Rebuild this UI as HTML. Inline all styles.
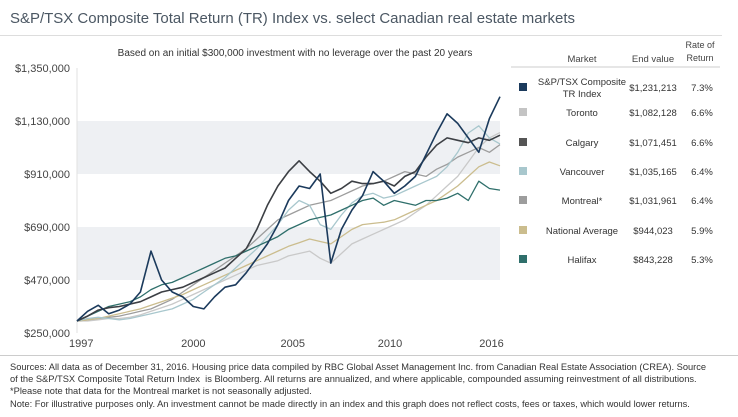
<!DOCTYPE html>
<html><head><meta charset="utf-8">
<style>
body{margin:0;width:738px;height:417px;background:#fff;font-family:"Liberation Sans",sans-serif;overflow:hidden;position:relative;color:#333}
.t{position:absolute;white-space:nowrap}
</style></head><body>
<div style="position:absolute;left:0;top:35px;width:722px;height:1px;background:#ddd"></div>
<svg id="chart" width="738" height="417" style="position:absolute;left:0;top:0"></svg>
<div style="position:absolute;left:0;top:355px;width:738px;height:1px;background:#ccc"></div>
<div class="t" style="left:10px;top:361px;font-size:9.3px;line-height:12.2px;color:#333">Sources: All data as of December 31, 2016. Housing price data compiled by RBC Global Asset Management Inc. from Canadian Real Estate Association (CREA). Source<br>of the S&amp;P/TSX Composite Total Return Index &nbsp;is Bloomberg. All returns are annualized, and where applicable, compounded assuming reinvestment of all distributions.<br>*Please note that data for the Montreal market is not seasonally adjusted.<br>Note: For illustrative purposes only. An investment cannot be made directly in an index and this graph does not reflect costs, fees or taxes, which would lower returns.</div>
<script>
const yTicks=[250000,470000,690000,910000,1130000,1350000];
const yTickLabels=["$250,000","$470,000","$690,000","$910,000","$1,130,000","$1,350,000"];
const xTickAt=[1997.2,2002.5,2007.2,2011.8,2016.6];
const xTickLabels=["1997","2000","2005","2010","2016"];
const startYear=1997, stepYears=0.5;
const seriesNames=["Toronto","Montreal*","National Average","Vancouver","Halifax","Calgary","S&P/TSX Composite TR Index"];
const seriesColors=["#c9c9c9","#9d9d9d","#cbbd8e","#a8c7cd","#2f6f6b","#3c3f44","#1b3a5c"];
const toronto=[300,300,305,310,310,315,325,340,355,370,390,410,430,450,470,490,510,530,540,550,570,580,590,560,540,580,620,640,660,680,700,720,750,780,820,860,900,960,1020,1060,1082];
const montreal=[300,305,310,315,320,330,340,350,370,390,420,450,480,510,540,570,600,640,680,720,740,760,780,790,800,820,840,860,870,880,900,920,910,900,930,950,980,1000,1020,1000,1032];
const national=[300,305,310,320,330,340,350,365,380,395,410,430,450,470,490,510,530,550,570,590,610,625,640,630,620,650,680,700,705,710,720,740,760,780,800,830,860,900,940,960,944];
const vancouver=[300,310,315,310,305,310,320,330,340,350,370,390,420,450,480,520,560,600,650,700,760,800,780,700,680,740,790,820,830,810,820,840,860,880,900,940,1000,1080,1110,1060,1035];
const halifax=[300,320,340,360,370,380,400,430,450,460,480,500,520,540,560,570,590,610,630,650,680,700,720,730,740,760,780,800,810,780,800,790,780,800,800,810,830,800,880,850,843];
const calgary=[300,320,345,355,360,370,380,400,420,430,440,460,480,500,520,560,600,680,780,860,920,965,920,880,830,850,880,870,870,880,860,900,920,980,1030,1060,1050,1040,1060,1050,1071];
const tsx=[300,340,365,330,345,370,420,590,470,420,400,360,350,400,440,450,500,560,620,700,800,860,850,910,540,680,760,820,920,880,830,860,900,990,1080,1160,1120,1060,1000,1140,1231];
const allSeries=[toronto,montreal,national,vancouver,halifax,calgary,tsx];
const endValues=["$1,231,213","$1,082,128","$1,071,451","$1,035,165","$1,031,961","$944,023","$843,228"];
const rates=["7.3%","6.6%","6.6%","6.4%","6.4%","5.9%","5.3%"];
const legendNames=["S&P/TSX Composite|TR Index","Toronto","Calgary","Vancouver","Montreal*","National Average","Halifax"];
const legendColors=["#1b3a5c","#c4c4c4","#555555","#a8c7cd","#9d9d9d","#cbbd8e","#2f6f6b"];

const NS="http://www.w3.org/2000/svg";
const svg=document.getElementById('chart');
const L=77,R=500,T=68,B=333;
const x=t=>L+(t-1997)/(2017-1997)*(R-L);
const y=v=>B-(v-250000)/(1350000-250000)*(B-T);
function mk(tag,a){const e=document.createElementNS(NS,tag);for(const k in a)e.setAttribute(k,a[k]);svg.appendChild(e);return e;}
function txt(s,xx,yy,anchor,size,color){const t=mk('text',{x:xx,y:yy,'text-anchor':anchor,'font-size':size,'fill':color||'#333','font-family':'Liberation Sans, sans-serif'});t.textContent=s;return t;}

const title=txt('S&P/TSX Composite Total Return (TR) Index vs. select Canadian real estate markets',10,23,'start',15,'#4b5763');
title.setAttribute('textLength','565');
title.setAttribute('lengthAdjust','spacingAndGlyphs');



for(let i=1;i<yTicks.length-1;i+=2){
 const b=mk('rect',{x:L,y:y(yTicks[i+1]),width:R-L,height:y(yTicks[i])-y(yTicks[i+1]),fill:'#eef0f3'});
 
 
}
const ax=mk('line',{x1:L,x2:L,y1:T,y2:B,stroke:'#e2e2e2'});


yTicks.forEach((v,i)=>{
 const t=txt(yTickLabels[i],70,y(v)+4,'end',11,'#444');
 
 
});
xTickAt.forEach((v,i)=>{
 const t=txt(xTickLabels[i],x(v),347,'middle',11,'#444');
 
 
});
const st=txt('Based on an initial $300,000 investment with no leverage over the past 20 years',295,56,'middle',10,'#333');



allSeries.forEach((s,si)=>{
 const d=s.map((v,i)=>(i?'L':'M')+x(startYear+i*stepYears).toFixed(1)+','+y(v*1000).toFixed(1)).join(' ');
 const p=mk('path',{d:d,fill:'none',stroke:seriesColors[si],'stroke-width':si>=5?1.6:1.3,'stroke-linejoin':'round'});
 
 
});

let h=txt('Market',582,62,'middle',9.5,'#444');


h=txt('End value',653,62,'middle',9.5,'#444');


h=txt('Rate of',700,48,'middle',9,'#444');


h=txt('Return',700,61,'middle',9,'#444');


const hr=mk('line',{x1:511,x2:720,y1:67,y2:67,stroke:'#ccc'});


const rowY=[87,112,142,171,200,230,259];
legendNames.forEach((n,i)=>{
 const r=mk('rect',{x:519,y:rowY[i]-4,width:8,height:8,fill:legendColors[i]});
 
 
 const parts=n.split('|');
 parts.forEach((p,k)=>{
  const t=txt(p,582,rowY[i]+4+(parts.length>1?(k-0.5)*12:0),'middle',9.5);
  
  
 });
 let t=txt(endValues[i],653,rowY[i]+4,'middle',9.5);
 
 
 t=txt(rates[i],702,rowY[i]+4,'middle',9.5);
 
 
});
</script>
</body></html>
